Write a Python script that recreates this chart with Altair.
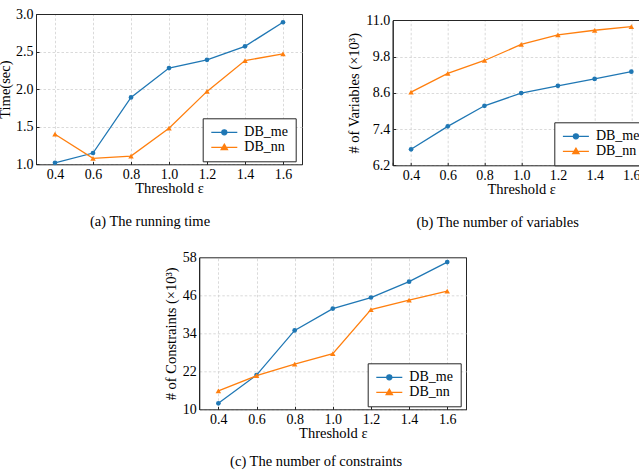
import altair as alt
import pandas as pd

# shared x positions (threshold epsilon) and the two methods compared
thresholds = [0.4, 0.6, 0.8, 1.0, 1.2, 1.4, 1.6]
methods = ["DB_me", "DB_nn"]
palette = ["#1f77b4", "#ff7f0e"]
markers = ["circle", "triangle-up"]
marker_sizes = [22, 30]

# (a) running time in seconds
time_me = [1.02, 1.15, 1.89, 2.28, 2.39, 2.57, 2.89]
time_nn = [1.40, 1.08, 1.11, 1.48, 1.97, 2.38, 2.47]
time_ticks = [1.0, 1.5, 2.0, 2.5, 3.0]

# (b) number of variables, in thousands
vars_me = [6.73, 7.49, 8.17, 8.59, 8.83, 9.06, 9.30]
vars_nn = [8.62, 9.24, 9.67, 10.20, 10.52, 10.67, 10.79]
vars_ticks = [6.2, 7.4, 8.6, 9.8, 11.0]

# (c) number of constraints, in thousands
cons_me = [11.9, 20.8, 34.9, 41.8, 45.3, 50.3, 56.5]
cons_nn = [15.8, 20.6, 24.3, 27.6, 41.5, 44.5, 47.3]
cons_ticks = [10, 22, 34, 46, 58]

X_DOMAIN = [0.3, 1.7]
SERIF = "Liberation Serif"
FRAME = "#262626"
GRID = "#d0d0d0"
DASH = [2.5, 2]
TICK = 3

# legend glyphs: a short line segment with the series marker at its middle
GLYPHS = [
    "M-1.08,0L4.12,0M1.02,0A0.5,0.5,0,1,0,2.02,0A0.5,0.5,0,1,0,1.02,0Z",
    "M-1.08,0L4.12,0M1.52,-0.62L2.15,0.46L0.89,0.46Z",
]


def long_table(me, nn):
    n = len(thresholds)
    return pd.DataFrame({
        "threshold": thresholds * 2,
        "value": list(me) + list(nn),
        "method": [methods[0]] * n + [methods[1]] * n,
    })


def panel(me, nn, *, width, height, y_domain, y_ticks, y_format, y_title,
          legend_x, legend_y, caption, caption_dx, caption_offset, y_title_x,
          x_range=None, y_range=None, inward_y_ticks=True):
    data = long_table(me, nn)

    xs = dict(domain=X_DOMAIN, nice=False, zero=False)
    if x_range is not None:
        xs["range"] = x_range
    ys = dict(domain=y_domain, nice=False, zero=False)
    if y_range is not None:
        ys["range"] = y_range

    x_lo, x_hi = x_range if x_range is not None else (0, width)
    y_hi, y_lo = y_range if y_range is not None else (height, 0)

    # ticks point into the plot: the x axis is a top axis moved down to the
    # bottom edge, the y axis a right axis moved over to the left edge.
    # The right and top edges of the box are solid grid lines.
    x_edge = "datum.value < 0.35 || datum.value > 1.65"
    y_edge = f"datum.value > {y_domain[1]} - 1e-6"
    x_axis = alt.Axis(
        orient="top", offset=-height,
        values=[X_DOMAIN[0]] + thresholds + [X_DOMAIN[1]],
        labelExpr=f"{x_edge} ? '' : format(datum.value, '.1f')",
        ticks=True, tickSize=TICK, tickColor=FRAME, tickWidth=1,
        labelPadding=-(TICK + 3), labelBaseline="top",
        title="Threshold ε", titleBaseline="top", titleY=17.5,
        grid=True,
        gridColor=alt.condition(x_edge, alt.value(FRAME), alt.value(GRID)),
        gridDash=alt.condition(x_edge, alt.value([]), alt.value(DASH)),
        gridWidth=alt.condition(x_edge, alt.value(1), alt.value(0.8)),
    )
    if inward_y_ticks:
        y_place = dict(orient="right", offset=-width, ticks=True, tickSize=TICK,
                       tickColor=FRAME, tickWidth=1, labelPadding=-(TICK + 3))
    else:
        # plot box starts inside the view: move the left axis over to it
        y_place = dict(orient="left", offset=-x_lo, ticks=False, labelPadding=3)
    y_axis = alt.Axis(
        values=y_ticks, format=y_format, labelAlign="right",
        title=y_title, titleAngle=270, titleAlign="center", titleBaseline="middle",
        titleX=y_title_x, titleY=(y_hi + y_lo) / 2,
        grid=True,
        gridColor=alt.condition(y_edge, alt.value(FRAME), alt.value(GRID)),
        gridDash=alt.condition(y_edge, alt.value([]), alt.value(DASH)),
        gridWidth=alt.condition(y_edge, alt.value(1), alt.value(0.8)),
        **y_place,
    )
    x_enc = alt.X("threshold:Q", scale=alt.Scale(**xs), axis=x_axis)
    y_enc = alt.Y("value:Q", scale=alt.Scale(**ys), axis=y_axis)

    base = alt.Chart(data)
    layers = []
    for name, colour, shape, size in zip(methods, palette, markers, marker_sizes):
        layers.append(
            base.transform_filter(alt.datum.method == name).mark_line(
                color=colour, strokeWidth=1.3,
                point=alt.OverlayMarkDef(shape=shape, filled=True, size=size, color=colour),
            ).encode(x=x_enc, y=y_enc)
        )

    key = alt.Legend(
        orient="none", legendX=legend_x, legendY=legend_y, title=None,
        padding=7, strokeColor=FRAME, fillColor="white", cornerRadius=0,
        labelFont=SERIF, labelFontSize=14, labelColor="black",
        symbolSize=100, symbolStrokeWidth=1.3, symbolOpacity=1,
        labelOffset=20.6, rowPadding=1,
    )
    layers.append(
        base.mark_point(filled=True, opacity=0).encode(
            x=x_enc, y=y_enc,
            color=alt.Color("method:N", scale=alt.Scale(domain=methods, range=palette), legend=key),
            stroke=alt.Stroke("method:N", scale=alt.Scale(domain=methods, range=palette), legend=key),
            shape=alt.Shape("method:N", scale=alt.Scale(domain=methods, range=GLYPHS), legend=key),
        )
    )

    return alt.layer(*layers).properties(
        width=width, height=height,
        title=alt.TitleParams(caption, orient="bottom", anchor="middle", frame="group",
                              dx=caption_dx, offset=caption_offset),
    )


panel_a = panel(
    time_me, time_nn, width=266, height=150.3, y_domain=[1.0, 3.0],
    y_ticks=time_ticks, y_format=".1f", y_title="Time(sec)", y_title_x=-31,
    legend_x=166.7, legend_y=104.3,
    caption="(a)  The running time", caption_dx=-19, caption_offset=20,
)

panel_b = panel(
    vars_me, vars_nn, width=257, height=151.3, y_domain=[6.2, 11.0],
    y_ticks=vars_ticks, y_format=".1f", y_title="# of Variables (×10³)", y_title_x=-38,
    y_range=[151.3, 6.3],
    legend_x=161.6, legend_y=108.3,
    caption="(b)  The number of variables", caption_dx=-23.5, caption_offset=20,
)

panel_c = panel(
    cons_me, cons_nn, width=430.3, height=152, y_domain=[10, 58],
    y_ticks=cons_ticks, y_format="d", y_title="# of Constraints (×10³)", y_title_x=-28,
    x_range=[163.3, 430.3], inward_y_ticks=False,
    legend_x=331.7, legend_y=106,
    caption="(c)  The number of constraints", caption_dx=65, caption_offset=15,
)

own_legends = dict(color="independent", stroke="independent", shape="independent")

top_row = alt.hconcat(panel_a, panel_b, spacing=90.7, bounds="flush").resolve_legend(**own_legends)

chart = alt.vconcat(top_row, panel_c, spacing=243.3, bounds="flush").resolve_legend(
    **own_legends
).properties(
    autosize=alt.AutoSizeParams(type="none"),
    padding={"left": 36, "top": 14, "right": 603, "bottom": 458},
).configure_view(
    stroke=None
).configure_axis(
    labelFont=SERIF, labelFontSize=14, labelColor="black",
    titleFont=SERIF, titleFontSize=14.5, titleFontWeight="normal", titleColor="black",
    domainColor=FRAME, domainWidth=1,
).configure_title(
    font=SERIF, fontSize=14.5, fontWeight="normal", color="black",
)

chart.save("out.html", embed_options={"renderer": "svg", "actions": False})
